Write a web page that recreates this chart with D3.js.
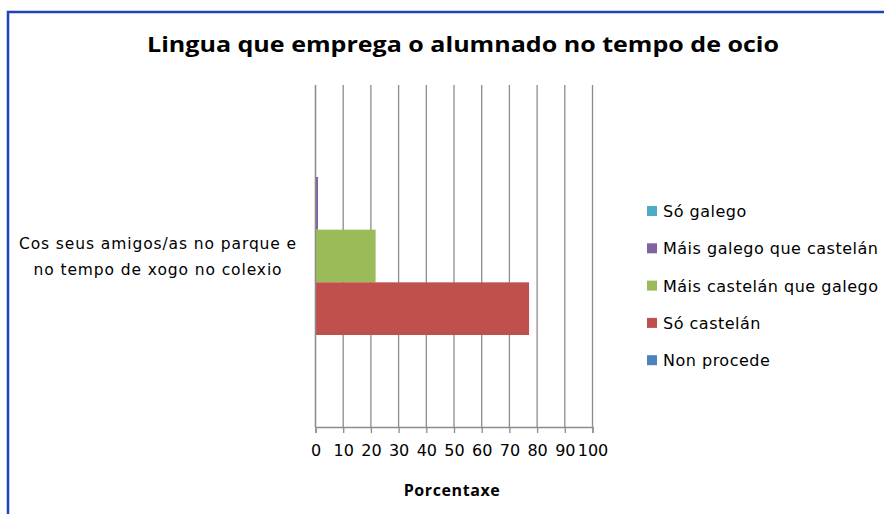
<!DOCTYPE html>
<html>
<head>
<meta charset="utf-8">
<script src="https://cdn.jsdelivr.net/npm/d3@7"></script>
<style>
  html, body { margin: 0; padding: 0; background: #fff; }
  svg { display: block; }
  text { font-family: "DejaVu Sans", Verdana, sans-serif; fill: #000; }
</style>
</head>
<body>
<div id="chart"></div>
<script>
const categories = ["Cos seus amigos/as no parque e|no tempo de xogo no colexio"];
const seriesNames = ["Só galego", "Máis galego que castelán", "Máis castelán que galego", "Só castelán", "Non procede"];
const seriesColors = ["#4BACC6", "#8064A2", "#9BBB59", "#C0504D", "#4F81BD"];
const values = [0, 0.9, 21.7, 77.1, 0];
const xTicks = [0, 10, 20, 30, 40, 50, 60, 70, 80, 90, 100];

const width = 884, height = 514;
const plot = { left: 315.5, right: 592.5, top: 85, bottom: 427 };

const svg = d3.select("#chart")
    .append("svg")
    .attr("width", width)
    .attr("height", height);

// chart frame (only top and left edge are visible in the picture)
svg.append("path")
    .attr("d", `M8,${height} L8,12 L${width},12`)
    .attr("fill", "none")
    .attr("stroke", "#1F45B5")
    .attr("stroke-width", 2.5);

svg.append("text")
    .attr("x", 463)
    .attr("y", 52)
    .attr("text-anchor", "middle")
    .style("font-family", "'Open Sans', sans-serif")
    .style("font-weight", "bold")
    .style("font-size", "22px")
    .attr("textLength", 632)
    .attr("lengthAdjust", "spacingAndGlyphs")
    .text("Lingua que emprega o alumnado no tempo de ocio");

const x = d3.scaleLinear().domain([0, 100]).range([plot.left, plot.right]);
const y = d3.scaleBand().domain(categories).range([plot.top, plot.bottom]).padding(0.13);
const ySeries = d3.scaleBand().domain(seriesNames).range([0, y.bandwidth()]);

// vertical gridlines
svg.append("g")
    .selectAll("line")
    .data(xTicks)
    .enter().append("line")
    .attr("x1", d => x(d)).attr("x2", d => x(d))
    .attr("y1", plot.top).attr("y2", plot.bottom)
    .attr("stroke", "#8C8C8C")
    .attr("stroke-width", 1.3);

// bars
const cat = categories[0];
svg.append("g")
    .selectAll("rect")
    .data(seriesNames.map((s, i) => ({ name: s, value: values[i], color: seriesColors[i] })))
    .enter().append("rect")
    .attr("x", x(0))
    .attr("y", d => y(cat) + ySeries(d.name))
    .attr("width", d => x(d.value) - x(0))
    .attr("height", ySeries.bandwidth())
    .attr("fill", d => d.color);

// x axis
const xAxis = svg.append("g")
    .attr("transform", `translate(0,${plot.bottom})`)
    .call(d3.axisBottom(x).tickValues(xTicks).tickSize(6).tickPadding(12));
xAxis.select(".domain").attr("stroke", "#8C8C8C").attr("stroke-width", 1.3);
xAxis.selectAll(".tick line").attr("stroke", "#8C8C8C").attr("stroke-width", 1.3);
xAxis.selectAll(".tick text")
    .style("font-family", "'DejaVu Sans', sans-serif")
    .style("font-size", "16px")
    .attr("fill", "#000");

// left axis line
svg.append("line")
    .attr("x1", x(0)).attr("x2", x(0))
    .attr("y1", plot.top).attr("y2", plot.bottom)
    .attr("stroke", "#8C8C8C")
    .attr("stroke-width", 1.3);

// category label (two lines)
const catLabel = svg.append("text")
    .attr("text-anchor", "middle")
    .style("font-size", "15.5px")
    .style("letter-spacing", "0.9px");
cat.split("|").forEach((line, i) => {
    catLabel.append("tspan")
        .attr("x", 158)
        .attr("y", y(cat) + y.bandwidth() / 2 - 7 + i * 26)
        .text(line);
});

svg.append("text")
    .attr("x", 452)
    .attr("y", 496)
    .attr("text-anchor", "middle")
    .style("font-family", "'Open Sans', sans-serif")
    .style("font-weight", "bold")
    .style("font-size", "16px")
    .style("letter-spacing", "0.6px")
    .text("Porcentaxe");

// legend
const legend = svg.append("g")
    .selectAll("g")
    .data(seriesNames)
    .enter().append("g")
    .attr("transform", (d, i) => `translate(647,${211 + i * 37.3})`);
legend.append("rect")
    .attr("x", 0).attr("y", -5)
    .attr("width", 10).attr("height", 10)
    .attr("fill", (d, i) => seriesColors[i]);
legend.append("text")
    .attr("x", 16)
    .attr("y", 6)
    .style("font-size", "16px")
    .style("letter-spacing", "0.5px")
    .text(d => d);
</script>
</body>
</html>
